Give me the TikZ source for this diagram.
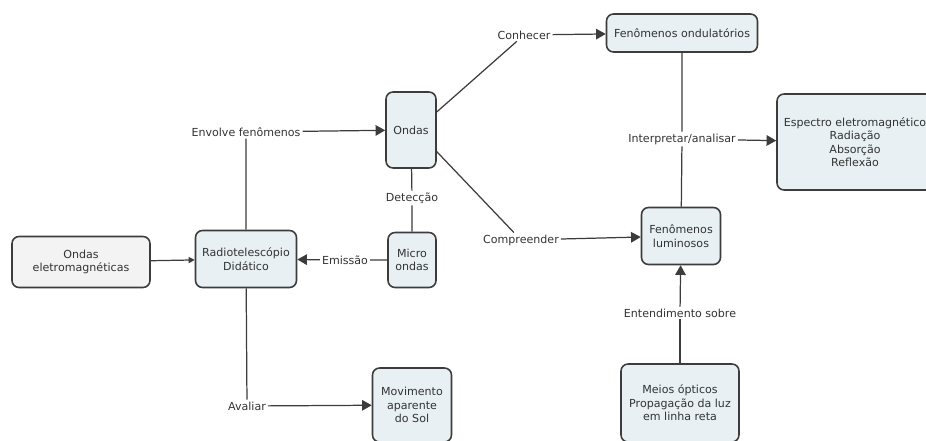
\documentclass[tikz,border=0pt]{standalone}
\usepackage{fontspec}
\setmainfont{DejaVu Sans}
\usetikzlibrary{arrows.meta}
\definecolor{boxfill}{HTML}{E8F0F4}
\definecolor{boxgray}{HTML}{F3F3F3}
\definecolor{linecol}{HTML}{3C3C3C}
\definecolor{txtcol}{HTML}{333333}

\begin{document}
\begin{tikzpicture}[x=0.02cm,y=-0.02cm,
    font=\fontsize{6.3}{7.7}\selectfont,text=txtcol,
    concept/.style={draw=linecol,fill=boxfill,rounded corners=4pt,line width=0.9pt,align=center,inner sep=1pt},
    phrase/.style={inner sep=1pt},
    link/.style={draw=linecol,line width=0.7pt},
    arr/.style={link,-{Triangle[length=5.5pt,width=6pt]}}]
      \clip (0,0) rectangle (926,440);
      % conceitos
      \node[concept,minimum width=1cm,minimum height=1.52cm](ondas)at(411,130){Ondas};
      \node[concept,minimum width=3.02cm,minimum height=.76cm](fond)at(682,33){Fenômenos ondulatórios};
      \node[concept,minimum width=3.12cm,minimum height=1.92cm](espec)at(855,142){Espectro eletromagnético\\Radiação\\Absorção\\Reflexão};
      \node[concept,fill=boxgray,minimum width=2.76cm,minimum height=1.02cm](oel)at(81,262){Ondas\\eletromagnéticas};
      \node[concept,minimum width=2.02cm,minimum height=1.14cm](radio)at(246,259){Radiotelescópio\\Didático};
      \node[concept,minimum width=.96cm,minimum height=1.1cm](micro)at(412,260){Micro\\ondas};
      \node[concept,minimum width=1.58cm,minimum height=1.48cm](movi)at(412,405){Movimento\\aparente\\do Sol};
      \node[concept,minimum width=1.58cm,minimum height=1.14cm](flum)at(681,236){Fenômenos\\luminosos};
      \node[concept,minimum width=2.36cm,minimum height=1.56cm](meios)at(680,403){Meios ópticos\\Propagação da luz\\em linha reta};
      % frases de ligação
      \node[phrase](envolve)at(246,132){Envolve fenômenos};
      \node[phrase](detec)at(412,198){Detecção};
      \node[phrase](conhecer)at(524,35){Conhecer};
      \node[phrase](interp)at(682,139){Interpretar/analisar};
      \node[phrase](emissao)at(345,260){Emissão};
      \node[phrase](avaliar)at(247,406){Avaliar};
      \node[phrase](compr)at(521,240){Compreender};
      \node[phrase](entend)at(680,313){Entendimento sobre};
      % ligações
      \draw[link](radio)--(envolve) (ondas)--(detec)--(micro) (micro)--(emissao);
      \draw[arr](envolve)--(ondas);
      \draw[arr](emissao)--(radio);
      \draw[link,-{Triangle[length=3.5pt,width=3.5pt]}](oel)--(radio);
      \draw[link](radio)--(avaliar);
      \draw[arr](avaliar)--(movi);
      \draw[link](ondas.35)--(conhecer) (ondas.-40)--(compr);
      \draw[arr](conhecer)--(fond);
      \draw[arr](compr)--(flum);
      \draw[link](fond)--(interp)--(flum);
      \draw[arr](interp)--(espec);
      \draw[link](meios)--(entend);
      \draw[arr](entend)--(flum);
\end{tikzpicture}
\end{document}
